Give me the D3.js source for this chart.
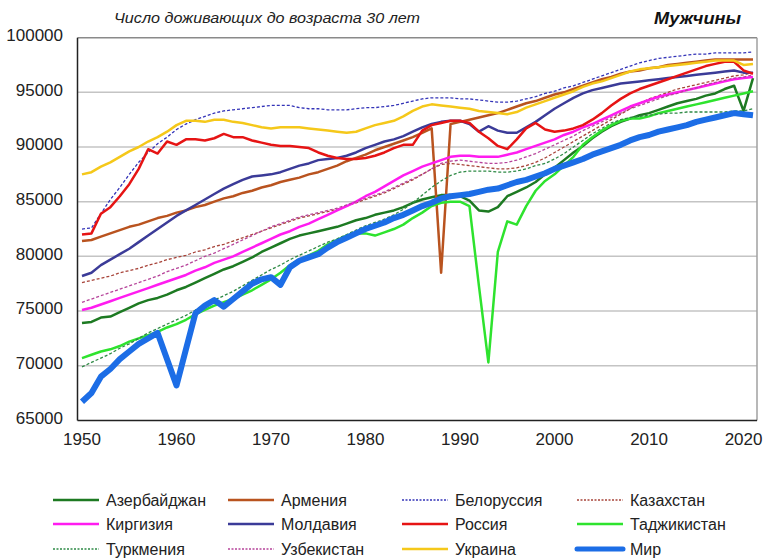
<!DOCTYPE html>
<html>
<head>
<meta charset="utf-8">
<script src="https://cdn.jsdelivr.net/npm/d3@7"></script>
<style>
  body { margin: 0; background: #fff; }
  svg { display: block; font-family: "Liberation Sans", Arial, sans-serif; }
</style>
</head>
<body>
<svg id="svg1" width="763" height="558"></svg>
<script>
var years = d3.range(1950, 2022);

var azerbaijan = [73900,74000,74400,74500,74900,75300,75700,76000,76200,76500,
  76900,77200,77600,78000,78400,78800,79100,79500,79900,80400,
  80800,81200,81600,81900,82100,82300,82500,82700,83000,83300,
  83500,83800,84000,84200,84500,84900,85200,85400,85600,85600,
  85500,85100,84200,84100,84500,85500,85900,86300,86800,87500,
  88100,88800,89500,90100,90800,91400,91900,92300,92600,92900,
  93100,93400,93700,94000,94200,94400,94700,94900,95300,95600,
  93300,96300];
var armenia = [81400,81500,81800,82100,82400,82700,82900,83200,83500,83700,
  84000,84200,84500,84700,85000,85300,85500,85800,86000,86300,
  86500,86800,87000,87200,87500,87700,88000,88300,88700,89000,
  89300,89700,90000,90300,90600,90900,91300,91700,78500,92100,
  92300,92500,92700,92900,93100,93400,93700,94000,94200,94500,
  94800,95000,95300,95600,95900,96200,96400,96700,96900,97000,
  97200,97300,97500,97600,97700,97800,97900,98000,98000,98000,
  98000,98000];
var belarus = [82500,82600,83900,85200,86300,87500,88600,89500,90300,90900,
  91600,92100,92500,92800,93100,93300,93400,93500,93600,93700,
  93800,93800,93800,93600,93500,93500,93400,93400,93400,93500,
  93600,93600,93700,93800,94000,94200,94400,94500,94500,94500,
  94400,94400,94300,94200,94100,94100,94200,94400,94600,94900,
  95100,95400,95600,95900,96200,96500,96800,97100,97400,97700,
  97900,98100,98200,98300,98400,98500,98500,98600,98600,98600,
  98600,98700];
var kazakhstan = [77600,77800,78000,78200,78500,78700,78900,79200,79400,79700,
  79900,80100,80400,80600,80900,81100,81400,81700,82000,82300,
  82600,82900,83200,83500,83700,83900,84100,84300,84600,84900,
  85200,85500,85800,86200,86600,87000,87500,88000,88400,88500,
  88400,88300,88200,88100,88000,88000,88100,88300,88600,89000,
  89500,90000,90500,91000,91500,92000,92500,93000,93500,94000,
  94400,94700,95000,95300,95500,95700,95900,96100,96300,96500,
  96600,96800];
var kyrgyzstan = [75100,75300,75600,75900,76200,76500,76800,77100,77400,77700,
  78000,78300,78700,79000,79400,79700,80000,80400,80800,81200,
  81600,82000,82300,82700,83000,83400,83800,84200,84600,85000,
  85500,85900,86400,86900,87400,87800,88200,88500,88800,89100,
  89200,89200,89100,89100,89100,89300,89500,89800,90100,90400,
  90700,91100,91400,91800,92100,92500,92900,93300,93700,94000,
  94300,94600,94800,95000,95200,95400,95600,95800,96000,96200,
  96300,96400];
var moldova = [78200,78500,79200,79700,80200,80700,81300,81900,82500,83100,
  83700,84200,84700,85200,85700,86200,86600,87000,87300,87400,
  87500,87700,88000,88300,88500,88800,88900,89000,89200,89500,
  89900,90200,90500,90700,91000,91400,91800,92100,92300,92400,
  92400,92100,91400,91900,91500,91300,91300,91800,92300,92900,
  93500,94000,94500,94900,95200,95400,95600,95800,95900,96000,
  96100,96200,96300,96400,96500,96600,96700,96800,96900,97000,
  96800,96800];
var russia = [82000,82100,83900,84500,85500,86600,88000,89800,89400,90500,
  90200,90700,90700,90600,90800,91200,90900,90900,90600,90400,
  90200,90100,90100,90000,89900,89500,89200,89000,88900,88900,
  89000,89200,89500,89900,90200,90200,91500,92000,92200,92400,
  92400,92200,91400,90800,90100,89800,90700,91700,92200,91600,
  91400,91500,91700,92000,92500,93100,93800,94400,94900,95300,
  95600,95900,96200,96500,96800,97100,97400,97600,97800,97800,
  97000,96700];
var tajikistan = [70700,71000,71300,71500,71800,72200,72500,72800,73100,73500,
  73800,74200,74700,75100,75500,75800,76100,76500,76900,77400,
  77900,78500,79200,79700,80100,80500,81100,81500,81900,82100,
  82100,81900,82200,82500,82900,83500,84000,84600,84900,85000,
  85000,84600,77300,70300,80400,83200,82900,84600,86000,86900,
  87500,88300,89100,90200,90900,91500,92000,92400,92600,92600,
  92800,93100,93300,93500,93700,93900,94100,94300,94500,94700,
  94900,95100];
var turkmenistan = [69900,70300,70700,71100,71600,72000,72500,73000,73400,73800,
  74200,74600,75100,75500,76000,76400,76800,77300,77800,78300,
  78800,79200,79700,80100,80500,80900,81300,81600,82000,82400,
  82800,83100,83400,83800,84300,84900,85600,86300,86900,87400,
  87700,87800,87800,87800,87700,87700,87800,88000,88300,88500,
  88900,89400,90000,90600,91200,91700,92200,92500,92700,92800,
  92900,93000,93100,93100,93200,93200,93200,93200,93200,93300,
  93300,93500];
var uzbekistan = [75800,76100,76400,76700,77000,77300,77600,77900,78200,78600,
  78900,79200,79600,80000,80300,80700,81100,81500,81900,82300,
  82700,83000,83300,83600,83800,84000,84200,84400,84700,85000,
  85300,85600,85900,86300,86700,87100,87500,88000,88500,88700,
  88800,88700,88600,88500,88500,88600,88800,89100,89400,89800,
  90200,90600,91000,91500,91900,92300,92700,93100,93500,93800,
  94100,94400,94700,94900,95200,95400,95700,95900,96100,96300,
  96400,96600];
var ukraine = [87500,87700,88200,88600,89100,89600,90000,90500,90900,91400,
  92000,92400,92400,92300,92500,92500,92300,92200,92000,91800,
  91700,91800,91800,91800,91700,91600,91500,91400,91300,91400,
  91700,92000,92200,92400,92800,93300,93700,93900,93800,93700,
  93600,93500,93300,93200,93100,93000,93200,93600,93900,94200,
  94500,94800,95100,95500,95800,96000,96300,96600,96900,97100,
  97200,97300,97400,97500,97600,97700,97800,97900,97900,97900,
  97500,97600];
var world = [66700,67500,69000,69700,70600,71300,72000,72500,73000,70600,
  68200,71500,74800,75500,76000,75400,76100,76800,77500,77900,
  78100,77400,79000,79600,79900,80200,80800,81300,81700,82100,
  82500,82800,83100,83500,83800,84200,84600,84900,85300,85500,
  85600,85700,85900,86100,86200,86500,86800,87000,87300,87600,
  88000,88300,88600,88900,89300,89600,89900,90200,90600,90900,
  91100,91400,91600,91800,92000,92300,92500,92700,92900,93100,
  93000,92900];

var yTicks = [65000, 70000, 75000, 80000, 85000, 90000, 95000, 100000];
var xTicks = [1950, 1960, 1970, 1980, 1990, 2000, 2010, 2020];

var series = [
  {name: "Азербайджан", values: azerbaijan, color: "#1d7a22", width: 2.5, dash: null},
  {name: "Армения", values: armenia, color: "#b9531f", width: 2.5, dash: null},
  {name: "Белоруссия", values: belarus, color: "#3434b8", width: 1.3, dash: "3,2"},
  {name: "Казахстан", values: kazakhstan, color: "#a8443a", width: 1.3, dash: "3,2"},
  {name: "Киргизия", values: kyrgyzstan, color: "#ff1cf0", width: 2.5, dash: null},
  {name: "Молдавия", values: moldova, color: "#3b3b98", width: 2.5, dash: null},
  {name: "Россия", values: russia, color: "#e61414", width: 2.5, dash: null},
  {name: "Таджикистан", values: tajikistan, color: "#2ee32e", width: 2.5, dash: null},
  {name: "Туркмения", values: turkmenistan, color: "#2e8a45", width: 1.3, dash: "3,2"},
  {name: "Узбекистан", values: uzbekistan, color: "#b6449a", width: 1.3, dash: "3,2"},
  {name: "Украина", values: ukraine, color: "#f5c81a", width: 2.5, dash: null},
  {name: "Мир", values: world, color: "#1c6de6", width: 6, dash: null}
];

var svg = d3.select('svg');

var x = d3.scaleLinear().domain([1950, 2021]).range([82, 753]);
var y = d3.scaleLinear().domain([65000, 100000]).range([420.4, 37.65]);

var plotLeft = 77.5, plotRight = 757, plotTop = y(100000), plotBottom = y(65000);

// gridlines
svg.append("g")
   .selectAll("line")
   .data(yTicks.filter(function(d) { return d > 65000 && d < 100000; }))
   .enter()
   .append("line")
   .attr("x1", plotLeft)
   .attr("x2", plotRight)
   .attr("y1", function(d) { return y(d); })
   .attr("y2", function(d) { return y(d); })
   .attr("stroke", "#c4c4c4")
   .attr("stroke-width", 1.5);

// plot frame
svg.append("line")
   .attr("x1", plotLeft).attr("x2", plotRight)
   .attr("y1", plotTop).attr("y2", plotTop)
   .attr("stroke", "#8a8a8a").attr("stroke-width", 1.5);
svg.append("line")
   .attr("x1", plotRight).attr("x2", plotRight)
   .attr("y1", plotTop).attr("y2", plotBottom)
   .attr("stroke", "#a0a0a0").attr("stroke-width", 1.5);

// lines
var line = d3.line()
    .x(function(d, i) { return x(years[i]); })
    .y(function(d) { return y(d); });

svg.append("g")
   .selectAll("path")
   .data(series)
   .enter()
   .append("path")
   .attr("d", function(d) { return line(d.values); })
   .attr("fill", "none")
   .attr("stroke", function(d) { return d.color; })
   .attr("stroke-width", function(d) { return d.width; })
   .attr("stroke-dasharray", function(d) { return d.dash; })
   .attr("stroke-linejoin", "round");

// axes lines
svg.append("line")
   .attr("x1", plotLeft).attr("x2", plotLeft)
   .attr("y1", plotTop).attr("y2", plotBottom)
   .attr("stroke", "#222").attr("stroke-width", 1.5);
svg.append("line")
   .attr("x1", plotLeft).attr("x2", plotRight)
   .attr("y1", plotBottom).attr("y2", plotBottom)
   .attr("stroke", "#222").attr("stroke-width", 1.5);

// y labels
svg.append("g")
   .selectAll("text")
   .data(yTicks)
   .enter()
   .append("text")
   .attr("x", 63)
   .attr("y", function(d) { return y(d) - 2.5; })
   .attr("dy", "0.35em")
   .attr("text-anchor", "end")
   .attr("font-size", 17)
   .attr("fill", "#222")
   .text(function(d) { return d; });

// x labels
svg.append("g")
   .selectAll("text")
   .data(xTicks)
   .enter()
   .append("text")
   .attr("x", function(d) { return x(d); })
   .attr("y", 439)
   .attr("dy", "0.35em")
   .attr("text-anchor", "middle")
   .attr("font-size", 17)
   .attr("fill", "#222")
   .text(function(d) { return d; });

// titles
svg.append("text")
   .attr("x", 114).attr("y", 23)
   .attr("font-size", 15)
   .attr("font-style", "italic")
   .attr("fill", "#222")
   .attr("textLength", 306)
   .attr("lengthAdjust", "spacingAndGlyphs")
   .text("Число доживающих до возраста 30 лет");
svg.append("text")
   .attr("x", 654).attr("y", 24)
   .attr("font-size", 16)
   .attr("font-style", "italic")
   .attr("font-weight", "bold")
   .attr("fill", "#111")
   .attr("textLength", 87)
   .attr("lengthAdjust", "spacingAndGlyphs")
   .text("Мужчины");

// legend
var colX = [53, 228, 402, 577];
var rowY = [500, 524, 549];

var legend = svg.append("g")
   .selectAll("g")
   .data(series)
   .enter()
   .append("g")
   .attr("transform", function(d, i) {
     return "translate(" + colX[i % 4] + "," + rowY[Math.floor(i / 4)] + ")";
   });

legend.append("line")
   .attr("x1", 0).attr("x2", 46)
   .attr("y1", 0).attr("y2", 0)
   .attr("stroke", function(d) { return d.color; })
   .attr("stroke-width", function(d) { return d.width > 3 ? 5 : d.width; })
   .attr("stroke-dasharray", function(d) { return d.dash ? "2,1.5" : null; })
   .attr("stroke-linecap", function(d) { return d.width > 3 ? "round" : "butt"; });

legend.append("text")
   .attr("x", 53)
   .attr("y", 0)
   .attr("dy", "0.35em")
   .attr("font-size", 16)
   .attr("fill", "#222")
   .text(function(d) { return d.name; });
</script>
</body>
</html>
